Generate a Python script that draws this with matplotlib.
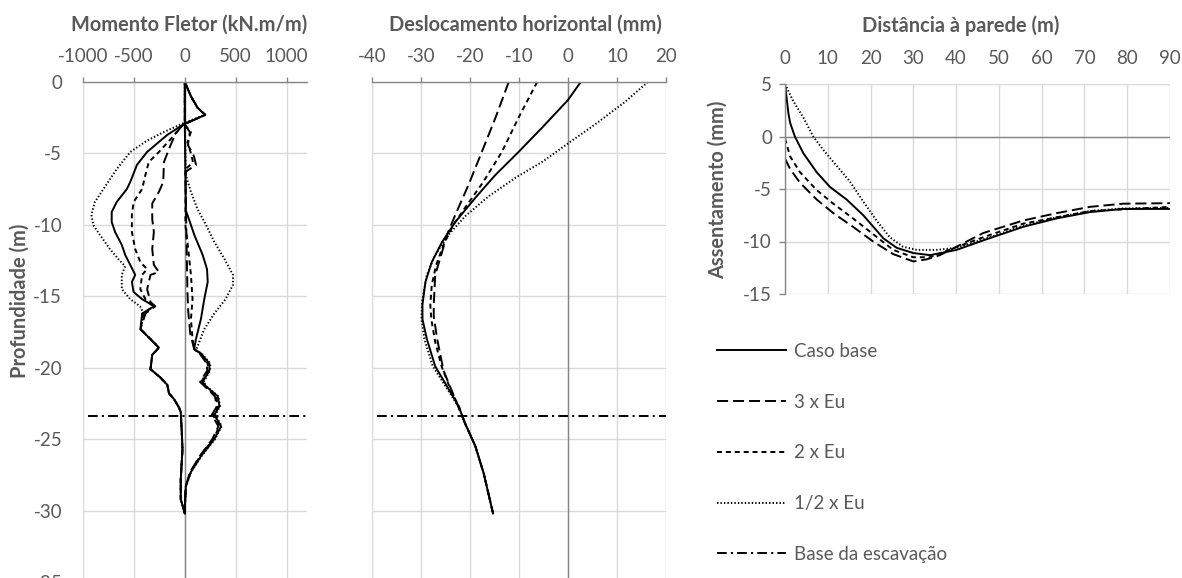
import matplotlib
matplotlib.use("Agg")
import matplotlib.pyplot as plt
from matplotlib.lines import Line2D

plt.rcParams['font.family'] = ['Lato', 'DejaVu Sans']
plt.rcParams['lines.scale_dashes'] = False
plt.rcParams['axes.unicode_minus'] = False

TXT = '#595959'
AXC = '#868686'
GRID = '#d9d9d9'
TICK_FS = 13.5
TITLE_FS = 14.4

# ---------------- Momento fletor (kN.m/m) x profundidade (m) ----------------
# Branch with negative moments (top spike included) and branch with positive moments
neg_tail_z = [-18.0, -18.6, -19.1, -20.1, -20.7, -21.2, -21.8, -22.2, -22.8, -23.1,
              -24.5, -25.7, -27.8, -29.2, -30.2]
neg_tail_m = [-337, -254, -320, -337, -238, -172, -155, -106, -56, -40,
              -30, -23, -40, -40, 0]
pos_tail_z = [-19.0, -19.7, -20.2, -21.0, -21.3, -22.0, -22.7, -23.3, -24.1, -25.0,
              -26.2, -27.3, -28.3, -29.8, -30.2]

base_neg_z = [0, -1.0, -1.8, -2.3, -3.0, -3.7, -4.9, -5.8, -7.0, -7.5, -8.4, -9.1, -9.8,
              -10.5, -11.4, -12.1, -12.8, -13.5, -14.0, -14.7, -15.2, -15.7, -16.2, -17.3]
base_neg_m = [0, 60, 125, 200, -20, -172, -371, -470, -536, -570, -669, -718, -718,
              -685, -619, -586, -536, -487, -520, -503, -420, -300, -419, -436]
base_pos_z = [0, -3.0, -6.0, -9.0, -9.3, -10.7, -12.1, -13.1, -14.0, -15.2, -16.6,
              -18.0, -18.7]
base_pos_m = [0, 0, 5, 10, 26, 93, 175, 218, 225, 191, 158, 109, 92]
base_pos_tail = [158, 241, 241, 175, 208, 323, 340, 290, 356, 290, 158, 59, 10, 0, 0]

e3_neg_z = [0, -1.0, -1.8, -2.3, -3.0, -3.6, -4.4, -5.6, -7.0, -7.7, -8.5, -9.6, -10.5,
            -11.7, -12.8, -13.3, -13.5, -14.5, -15.4, -15.7, -16.2, -17.3]
e3_neg_m = [0, 60, 125, 200, -20, -89, -139, -205, -212, -255, -320, -320, -304,
            -320, -304, -255, -337, -370, -337, -290, -386, -436]
e3_pos_z = [0, -3.0, -3.5, -4.4, -5.2, -5.8, -6.3, -12.4, -14.7, -16.0, -17.6, -18.7]
e3_pos_m = [0, 0, 50, 30, 90, 110, 5, 20, 26, 33, 53, 92]
e3_pos_tail = [145, 215, 220, 150, 195, 295, 315, 265, 330, 270, 145, 52, 8, 0, 0]

e2_neg_z = [0, -1.0, -1.8, -2.3, -3.0, -4.0, -4.9, -5.6, -6.5, -7.5, -8.4, -9.3, -10.5,
            -11.7, -12.6, -13.1, -13.5, -14.5, -15.2, -15.7, -16.2, -17.3]
e2_neg_m = [0, 60, 125, 200, -20, -139, -255, -354, -387, -420, -503, -520, -520,
            -487, -437, -370, -420, -437, -387, -310, -405, -436]
e2_pos_z = [0, -3.0, -3.5, -4.2, -5.0, -5.6, -6.1, -10.0, -11.2, -13.5, -15.2, -16.6,
            -18.0, -18.7]
e2_pos_m = [0, 0, 60, 26, 60, 80, 10, 5, 26, 60, 76, 60, 76, 92]
e2_pos_tail = [150, 225, 230, 160, 200, 305, 325, 275, 340, 280, 150, 55, 10, 0, 0]

eh_neg_z = [0, -1.0, -1.8, -2.3, -2.9, -3.5, -4.1, -4.9, -6.1, -7.5, -8.4, -9.3, -10.0,
            -10.7, -11.7, -12.4, -12.9, -13.5, -14.5, -15.2, -15.7, -16.2, -17.3]
eh_neg_m = [0, 60, 125, 200, -20, -205, -370, -536, -669, -800, -884, -917, -900,
            -834, -735, -652, -586, -619, -619, -536, -440, -403, -436]
eh_pos_z = [0, -3.0, -6.5, -7.7, -8.9, -10.0, -11.2, -12.4, -13.5, -14.2, -15.2,
            -16.2, -17.3, -18.5, -18.8]
eh_pos_m = [0, 0, 10, 60, 125, 208, 290, 390, 473, 473, 400, 290, 191, 125, 109]
eh_pos_tail = [165, 250, 248, 185, 215, 330, 345, 300, 362, 296, 162, 62, 12, 0, 0]

# ---------------- Deslocamento horizontal (mm) x profundidade (m) ----------------
dh_base_z = [0, -1.26, -3.2, -4.9, -6.5, -8.1, -9.8, -11.2, -12.6, -14.0, -15.6, -16.6,
             -18.0, -19.9, -21.3, -22.7, -23.9, -25.5, -27.4, -30.2]
dh_base_u = [2.6, 0, -5.3, -10.1, -14.8, -18.9, -23.0, -25.7, -27.8, -29.1, -29.7, -29.7,
             -28.8, -27.1, -24.7, -22.3, -21.0, -18.9, -17.2, -15.3]
dh_e3_z = [0, -2.5, -4.9, -7.2, -9.3, -10.7, -11.9, -13.5, -15.6, -16.4, -18.0, -20.2,
           -21.8, -22.9, -23.9, -25.5, -27.4, -30.2]
dh_e3_u = [-12.1, -14.8, -17.6, -20.3, -23.0, -24.7, -25.7, -27.1, -27.4, -27.4, -26.7,
           -25.4, -23.5, -22.2, -21.0, -18.9, -17.2, -15.3]
dh_e2_z = [0, -2.5, -4.9, -7.0, -8.8, -10.0, -11.4, -12.8, -14.2, -15.6, -16.6, -18.2,
           -19.9, -21.5, -22.7, -23.9, -25.5, -27.4, -30.2]
dh_e2_u = [-6.3, -10.1, -13.5, -17.3, -21.0, -23.4, -25.4, -26.9, -27.8, -28.1, -27.9,
           -27.1, -25.8, -24.0, -22.3, -21.0, -18.9, -17.2, -15.3]
dh_eh_z = [0, -1.4, -3.0, -4.3, -5.6, -6.7, -8.0, -9.4, -10.7, -12.1, -13.5, -15.4,
           -16.6, -18.0, -19.9, -21.3, -22.7, -23.9, -25.5, -27.4, -30.2]
dh_eh_u = [16.3, 11.6, 5.4, 0, -5.3, -10.7, -16.2, -21.0, -24.4, -27.1, -28.8, -29.8,
           -29.9, -29.3, -27.6, -25.0, -22.4, -21.0, -18.9, -17.2, -15.3]

# ---------------- Assentamento (mm) x distância à parede (m) ----------------
as_base_x = [0, 0.8, 1.2, 2.3, 4.3, 7.4, 10.5, 14.4, 18.3, 23.0, 26.1, 30.0, 33.9,
             40.1, 46.3, 55.7, 63.5, 71.3, 79.0, 90.0]
as_base_v = [5.0, 2.2, 1.3, 0.0, -1.6, -3.4, -4.8, -6.0, -7.5, -9.7, -10.6, -11.1, -11.3,
             -10.8, -9.9, -8.6, -7.8, -7.2, -6.9, -6.9]
as_e3_x = [0, 1.2, 3.5, 7.4, 11.3, 15.9, 20.6, 25.3, 30.0, 33.1, 36.2, 40.1, 46.3,
           55.7, 63.5, 71.3, 79.0, 90.0]
as_e3_v = [-2.1, -3.1, -4.4, -6.0, -7.3, -8.6, -10.0, -11.2, -11.9, -11.7, -11.3, -10.5,
           -9.2, -8.0, -7.3, -6.7, -6.4, -6.35]
as_e2_x = [0, 1.2, 3.5, 7.4, 11.3, 15.9, 20.6, 25.3, 30.0, 33.9, 37.0, 46.3, 55.7,
           71.3, 90.0]
as_e2_v = [-0.2, -1.9, -3.4, -5.1, -6.4, -7.8, -9.3, -10.8, -11.5, -11.5, -11.0, -9.6,
           -8.3, -7.1, -6.7]
as_eh_x = [0, 1.9, 4.3, 6.6, 9.0, 12.1, 15.2, 18.3, 21.4, 24.5, 27.6, 30.8, 35.4,
           40.1, 46.3, 55.7, 63.5, 71.3, 79.0, 90.0]
as_eh_v = [5.0, 3.4, 1.8, 0.0, -1.3, -2.8, -4.3, -6.2, -8.0, -9.6, -10.5, -10.8, -10.8,
           -10.6, -9.8, -8.5, -7.7, -7.1, -6.85, -6.8]

# Base da escavação (m)
base_escavacao = -23.35
base_m_range = [-950, 1200]
base_u_range = [-39, 20]

labels = ['Caso base', '3 x Eu', '2 x Eu', '1/2 x Eu', 'Base da escavação']
styles = ['-', (0, (8, 3.5)), (0, (3.6, 2.8)), (0, (1.0, 1.5)), (0, (7, 3, 1.5, 3))]
LW = 1.4

W, H = 1182, 578
fig = plt.figure(figsize=(W / 100, H / 100), dpi=100)


def px_axes(l, t, r, b):
    return fig.add_axes([l / W, 1 - b / H, (r - l) / W, (b - t) / H])


def depth_axes(ax, xlim, xticks, show_ylabels):
    ax.set_xlim(*xlim)
    ax.set_ylim(-35, 0)
    ax.set_xticks(xticks)
    ax.set_yticks(range(-35, 1, 5))
    ax.xaxis.tick_top()
    ax.grid(True, color=GRID, lw=1.0)
    ax.set_axisbelow(True)
    for s in ('left', 'right', 'bottom'):
        ax.spines[s].set_visible(False)
    ax.spines['top'].set_color(AXC)
    ax.spines['top'].set_linewidth(1.0)
    ax.tick_params(axis='x', which='both', direction='out', length=3.5, width=1.0,
                   color=AXC, labelcolor=TXT, labelsize=TICK_FS, pad=9)
    ax.tick_params(axis='y', length=0, labelcolor=TXT, labelsize=TICK_FS, pad=15,
                   labelleft=show_ylabels)
    ax.axvline(0, color=AXC, lw=1.0, zorder=1.5)


def loop(nz, nm, pz, pm, tail_pos):
    z = nz + neg_tail_z + (pz + pos_tail_z)[::-1]
    m = nm + neg_tail_m + (pm + tail_pos)[::-1]
    return m, z


# ---- Momento fletor ----
ax1 = px_axes(83, 82, 307, 582)
depth_axes(ax1, (-1000, 1200), [-1000, -500, 0, 500, 1000], True)
moments = [
    loop(base_neg_z, base_neg_m, base_pos_z, base_pos_m, base_pos_tail),
    loop(e3_neg_z, e3_neg_m, e3_pos_z, e3_pos_m, e3_pos_tail),
    loop(e2_neg_z, e2_neg_m, e2_pos_z, e2_pos_m, e2_pos_tail),
    loop(eh_neg_z, eh_neg_m, eh_pos_z, eh_pos_m, eh_pos_tail),
]
for (m, z), ls in zip(moments, styles):
    ax1.plot(m, z, color='black', lw=LW, ls=ls)
ax1.plot(base_m_range, [base_escavacao] * 2, color='black', lw=LW, ls=styles[4])

# ---- Deslocamento horizontal ----
ax2 = px_axes(372, 82, 666, 582)
depth_axes(ax2, (-40, 20), list(range(-40, 21, 10)), False)
disp = [(dh_base_u, dh_base_z), (dh_e3_u, dh_e3_z), (dh_e2_u, dh_e2_z), (dh_eh_u, dh_eh_z)]
for (u, z), ls in zip(disp, styles):
    ax2.plot(u, z, color='black', lw=LW, ls=ls)
ax2.plot(base_u_range, [base_escavacao] * 2, color='black', lw=LW, ls=styles[4])

# ---- Assentamento ----
ax3 = px_axes(785, 84, 1170, 294)
ax3.set_xlim(0, 90)
ax3.set_ylim(-15, 5)
ax3.set_xticks(range(0, 91, 10))
ax3.set_yticks(range(-15, 6, 5))
ax3.xaxis.tick_top()
ax3.grid(True, color=GRID, lw=1.0)
ax3.set_axisbelow(True)
for s in ('top', 'right', 'bottom'):
    ax3.spines[s].set_visible(False)
ax3.spines['left'].set_color(AXC)
ax3.spines['left'].set_linewidth(1.0)
ax3.tick_params(axis='x', length=0, labelcolor=TXT, labelsize=TICK_FS, pad=12.5)
ax3.tick_params(axis='y', direction='out', length=4.3, width=1.0, color=AXC,
                labelcolor=TXT, labelsize=TICK_FS, pad=5)
ax3.axhline(0, color=AXC, lw=1.0, zorder=1.5)
settle = [(as_base_x, as_base_v), (as_e3_x, as_e3_v), (as_e2_x, as_e2_v), (as_eh_x, as_eh_v)]
for (x, v), ls in zip(settle, styles):
    ax3.plot(x, v, color='black', lw=LW, ls=ls)

# ---- titles ----
tkw = dict(ha='center', va='center', weight='bold', size=TITLE_FS, color=TXT)
fig.text(189 / W, 1 - 25 / H, 'Momento Fletor (kN.m/m)', **tkw)
fig.text(525 / W, 1 - 25 / H, 'Deslocamento horizontal (mm)', **tkw)
fig.text(961 / W, 1 - 26 / H, 'Distância à parede (m)', **tkw)
fig.text(20 / W, 1 - 301 / H, 'Profundidade (m)', rotation=90, **tkw)
fig.text(718 / W, 1 - 190 / H, 'Assentamento (mm)', rotation=90, **tkw)

# ---- legend ----
handles = [Line2D([], [], color='black', lw=LW, ls=ls) for ls in styles]
fig.legend(handles, labels, loc='upper left', bbox_to_anchor=(717 / W, 1 - 343 / H),
           frameon=False, fontsize=TICK_FS, handlelength=3.7, handletextpad=0.38,
           labelspacing=1.80, borderpad=0, borderaxespad=0, labelcolor=TXT)

fig.savefig('out.png', dpi=100)
